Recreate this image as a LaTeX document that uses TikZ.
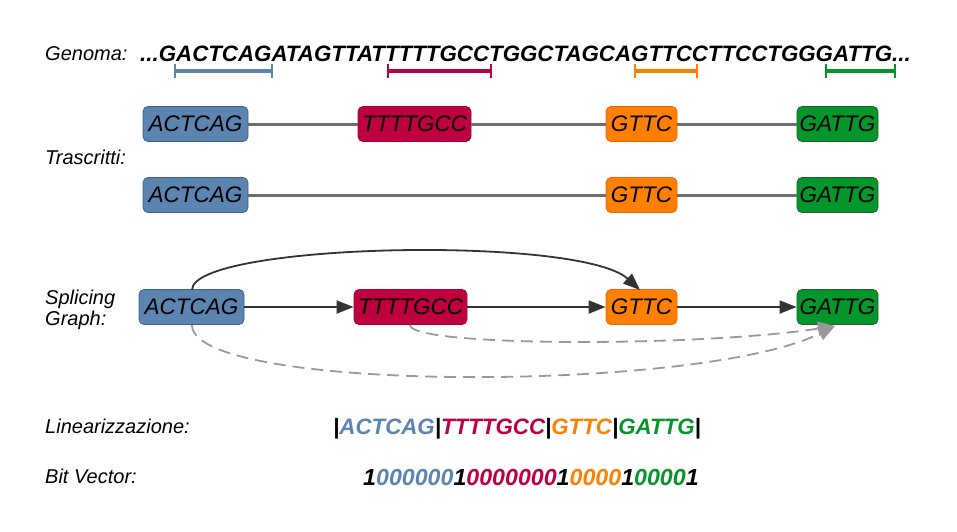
\documentclass[tikz,border=0pt]{standalone}
\usepackage{fontspec}
\setmainfont{Liberation Sans}
\usetikzlibrary{arrows.meta}
\definecolor{exblue}{HTML}{5B84B1}
\definecolor{exblueD}{HTML}{3E618C}
\definecolor{exred}{HTML}{BE0041}
\definecolor{exredD}{HTML}{A3003A}
\definecolor{exorange}{HTML}{FF8000}
\definecolor{exorangeD}{HTML}{F06010}
\definecolor{exgreen}{HTML}{05962B}
\definecolor{exgreenD}{HTML}{1E5E2C}
\definecolor{linegray}{HTML}{6E6E6E}
\definecolor{arrowdark}{HTML}{333333}
\definecolor{dashgray}{HTML}{999999}
\tikzset{
  exon/.style={rounded corners=5pt, line width=0.8pt, inner sep=0pt, minimum height=35pt,
    font=\fontsize{22.5}{26}\selectfont\itshape, text=black},
  ebl/.style={exon, fill=exblue, draw=exblueD, minimum width=105pt},
  ere/.style={exon, fill=exred, draw=exredD, minimum width=113pt},
  eor/.style={exon, fill=exorange, draw=exorangeD, minimum width=71pt},
  egr/.style={exon, fill=exgreen, draw=exgreenD, minimum width=81pt},
  lbl/.style={anchor=west, inner sep=0pt, font=\fontsize{20}{23}\selectfont\itshape, align=left},
  tline/.style={line width=3pt, draw=linegray},
  sarrow/.style={line width=1.8pt, draw=arrowdark, -{Triangle[length=17pt,width=13pt]}},
  darrow/.style={line width=1.8pt, draw=dashgray, dash pattern=on 12pt off 7pt, -{Triangle[length=17pt,width=14pt]}},
  brk/.style={line width=4.5pt},
  brkend/.style={line width=2pt},
  big/.style={inner sep=0pt, anchor=base west, font=\fontsize{22.3}{26}\selectfont\bfseries\itshape},
  bitsty/.style={inner sep=0pt, anchor=base west, font=\fontsize{23.2}{26}\selectfont\bfseries\itshape}
}
\begin{document}
\begin{tikzpicture}[x=1pt,y=-1pt]
\useasboundingbox (0,0) rectangle (957,531);
% labels
\node[lbl] (lgen) at (45,54) {Genoma:};
\node[lbl] (ltra) at (45,157) {Trascritti:};
\node[lbl] (lspl) at (45,310) {Splicing\\[-2pt]Graph:};
\node[lbl] (llin) at (45,426) {Linearizzazione:};
\node[lbl] (lbit) at (45,476) {Bit Vector:};
% genome
\node[big] (seq) at (140,61) {...GACTCAGATAGTTATTTTTGCCTGGCTAGCAGTTCCTTCCTGGGATTG...};
\foreach \a/\b/\c in {175/272/exblue, 388/491/exred, 635/697/exorange, 826/895/exgreen}{
  \draw[brk, \c] (\a,71) -- (\b,71);
  \draw[brkend, \c] (\a,64) -- (\a,78);
  \draw[brkend, \c] (\b,64) -- (\b,78);
}
% transcript 1
\node[ebl] (t1a) at (195.5,124) {ACTCAG};
\node[ere] (t1b) at (414.5,124) {TTTTGCC};
\node[eor] (t1c) at (641.5,124) {GTTC};
\node[egr] (t1d) at (837.5,124) {GATTG};
\draw[tline] (t1a) -- (t1b);
\draw[tline] (t1b) -- (t1c);
\draw[tline] (t1c) -- (t1d);
% transcript 2
\node[ebl] (t2a) at (195.5,195) {ACTCAG};
\node[eor] (t2c) at (641.5,195) {GTTC};
\node[egr] (t2d) at (837.5,195) {GATTG};
\draw[tline] (t2a) -- (t2c);
\draw[tline] (t2c) -- (t2d);
% splicing graph
\node[ebl] (ga) at (191.5,307) {ACTCAG};
\node[ere] (gb) at (410.5,307) {TTTTGCC};
\node[eor] (gc) at (641.5,307) {GTTC};
\node[egr] (gd) at (837.5,307) {GATTG};
\draw[sarrow] (ga) -- (gb);
\draw[sarrow] (gb) -- (gc);
\draw[sarrow] (gc) -- (gd);
\coordinate (gatop) at (192,290);
\coordinate (gctop) at (640,290);
\draw[sarrow] (gatop) .. controls (192,243) and (580,235) .. (gctop);
\coordinate (gbbot) at (410,325);
\coordinate (gabot) at (192,325);
\coordinate (gdbot) at (835,326);
\draw[darrow] (gbbot) .. controls (410,347) and (700,347) .. (gdbot);
\draw[darrow] (gabot) .. controls (192,393) and (700,393) .. (gdbot);
% linearization
\node[big] (lin) at (333,434) {|\textcolor{exblue}{ACTCAG}|\textcolor{exred}{TTTTGCC}|\textcolor{exorange}{GTTC}|\textcolor{exgreen}{GATTG}|};
\node[bitsty] (bits) at (363,485) {1\textcolor{exblue}{000000}1\textcolor{exred}{0000000}1\textcolor{exorange}{0000}1\textcolor{exgreen}{0000}1};
\end{tikzpicture}
\end{document}
